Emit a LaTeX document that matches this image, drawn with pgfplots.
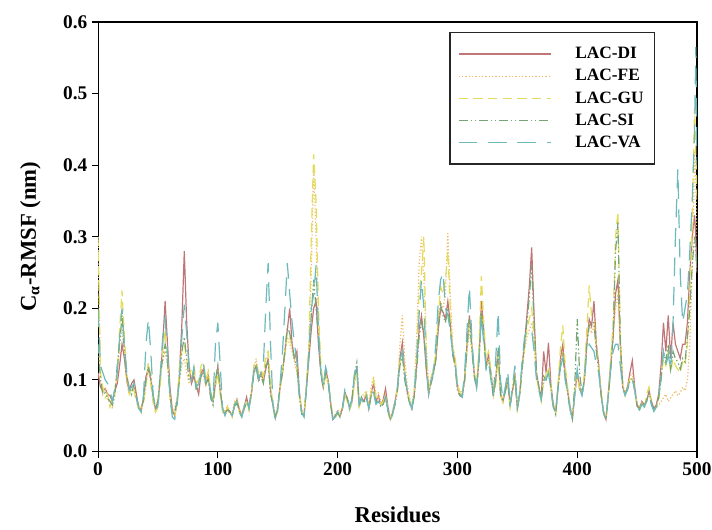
\documentclass[border=0pt]{standalone}
\usepackage{fontspec}
\setmainfont{Liberation Serif}
\usepackage{pgfplots}
\usepackage{pgfplotstable}
\pgfplotsset{compat=1.18}

\definecolor{cDI}{RGB}{192,118,118}
\definecolor{cFE}{RGB}{240,186,100}
\definecolor{cGU}{RGB}{226,220,90}
\definecolor{cSI}{RGB}{118,166,118}
\definecolor{cVA}{RGB}{108,186,188}

\pgfplotstableread{
r DI FE GU SI VA
0 .110 .300 .300 .150 .200
2 .090 .100 .110 .100 .120
4 .085 .080 .090 .080 .110
6 .088 .090 .075 .082 .100
8 .080 .070 .080 .075 .095
10 .078 .072 .062 .070 .085
12 .070 .060 .072 .065 .070
14 .085 .090 .080 .078 .088
16 .095 .100 .110 .120 .110
18 .120 .150 .170 .150 .160
20 .150 .170 .225 .190 .200
22 .130 .140 .160 .140 .150
24 .100 .095 .110 .105 .110
26 .085 .080 .080 .090 .085
28 .095 .085 .090 .080 .090
30 .100 .090 .085 .095 .095
32 .080 .075 .070 .075 .078
34 .062 .065 .060 .058 .060
36 .058 .055 .062 .060 .055
38 .075 .070 .068 .072 .080
40 .105 .090 .095 .100 .150
42 .115 .120 .125 .118 .185
44 .100 .110 .095 .105 .140
46 .078 .070 .068 .075 .080
48 .058 .060 .055 .062 .056
50 .070 .075 .062 .068 .065
52 .100 .105 .095 .110 .110
54 .150 .125 .140 .130 .160
56 .210 .140 .170 .150 .185
58 .150 .120 .130 .125 .140
60 .090 .085 .075 .080 .080
62 .058 .055 .050 .052 .048
64 .050 .060 .048 .055 .045
66 .068 .075 .070 .072 .065
68 .110 .100 .120 .100 .105
70 .180 .120 .140 .140 .160
72 .280 .130 .150 .160 .205
74 .180 .110 .130 .130 .165
76 .120 .095 .105 .100 .115
78 .095 .100 .115 .098 .100
80 .105 .115 .120 .112 .118
82 .092 .088 .095 .085 .090
84 .080 .095 .100 .090 .095
86 .110 .115 .120 .105 .110
88 .115 .105 .125 .112 .122
90 .095 .090 .100 .095 .098
92 .105 .110 .112 .100 .105
94 .078 .080 .085 .075 .082
96 .070 .072 .068 .065 .070
98 .095 .100 .090 .100 .150
100 .118 .115 .110 .120 .180
102 .085 .090 .080 .085 .120
104 .058 .062 .055 .060 .060
106 .052 .055 .050 .054 .050
108 .060 .065 .062 .058 .060
110 .056 .052 .058 .055 .054
112 .050 .055 .048 .052 .050
114 .065 .070 .068 .062 .066
116 .072 .075 .070 .068 .070
118 .058 .060 .055 .056 .055
120 .050 .052 .048 .050 .048
122 .062 .065 .058 .060 .062
124 .076 .070 .072 .068 .075
126 .060 .062 .058 .062 .060
128 .080 .085 .078 .082 .085
130 .110 .115 .120 .108 .112
132 .120 .130 .125 .118 .125
134 .100 .105 .110 .098 .102
136 .110 .108 .115 .105 .110
138 .098 .100 .105 .095 .120
140 .115 .125 .135 .120 .200
142 .130 .135 .140 .125 .263
144 .085 .090 .095 .080 .150
146 .065 .068 .062 .066 .065
148 .048 .050 .045 .047 .043
150 .060 .065 .058 .062 .058
152 .090 .095 .088 .092 .095
154 .110 .115 .108 .112 .140
156 .140 .135 .145 .140 .200
158 .170 .160 .165 .175 .263
160 .200 .150 .160 .165 .220
162 .150 .140 .145 .150 .180
164 .130 .125 .130 .128 .150
166 .140 .110 .115 .120 .125
168 .085 .080 .082 .078 .080
170 .055 .058 .056 .052 .054
172 .050 .055 .050 .052 .048
174 .090 .092 .095 .088 .090
176 .130 .140 .150 .135 .140
178 .170 .250 .300 .190 .200
180 .200 .400 .415 .240 .220
182 .210 .300 .350 .200 .260
184 .150 .180 .200 .160 .170
186 .110 .115 .120 .110 .112
188 .090 .095 .092 .088 .090
190 .115 .105 .108 .110 .118
192 .100 .095 .098 .100 .105
194 .070 .072 .075 .068 .070
196 .045 .048 .046 .044 .045
198 .050 .052 .048 .050 .048
200 .055 .058 .052 .054 .056
202 .050 .055 .052 .048 .050
204 .060 .062 .058 .060 .058
206 .082 .078 .080 .084 .086
208 .075 .072 .070 .074 .078
210 .060 .062 .058 .062 .060
212 .070 .072 .068 .075 .074
214 .100 .095 .098 .105 .108
216 .115 .110 .112 .124 .124
218 .065 .068 .062 .064 .066
220 .075 .078 .072 .076 .074
222 .070 .080 .075 .068 .066
224 .080 .085 .082 .076 .078
226 .060 .065 .062 .058 .060
228 .082 .090 .085 .078 .076
230 .095 .105 .100 .085 .082
232 .070 .080 .075 .068 .066
234 .078 .082 .076 .072 .070
236 .065 .070 .066 .062 .064
238 .072 .068 .070 .066 .068
240 .088 .080 .078 .075 .076
242 .062 .060 .058 .056 .058
244 .045 .048 .046 .044 .043
246 .055 .058 .056 .054 .052
248 .070 .072 .068 .066 .070
250 .090 .095 .088 .086 .090
252 .130 .150 .125 .120 .128
254 .152 .190 .140 .135 .140
256 .110 .130 .105 .100 .108
258 .085 .095 .088 .082 .086
260 .070 .075 .072 .068 .070
262 .060 .064 .062 .058 .060
264 .080 .090 .085 .078 .082
266 .120 .160 .140 .115 .130
268 .170 .260 .220 .160 .190
270 .190 .300 .250 .180 .240
272 .160 .240 .300 .165 .200
274 .115 .150 .140 .120 .125
276 .080 .090 .085 .082 .080
278 .100 .105 .100 .095 .098
280 .110 .115 .118 .108 .112
282 .130 .140 .135 .128 .150
284 .170 .180 .190 .175 .210
286 .200 .210 .230 .205 .240
288 .195 .200 .220 .190 .250
290 .185 .220 .240 .180 .200
292 .210 .305 .280 .200 .190
294 .180 .220 .200 .175 .170
296 .140 .150 .145 .135 .140
298 .125 .130 .135 .120 .128
300 .090 .095 .092 .085 .088
302 .080 .085 .082 .078 .080
304 .078 .082 .080 .076 .076
306 .100 .105 .102 .098 .110
308 .150 .140 .145 .145 .170
310 .190 .170 .180 .185 .230
312 .150 .140 .145 .145 .160
314 .110 .110 .108 .105 .112
316 .090 .095 .092 .088 .090
318 .130 .140 .145 .125 .128
320 .210 .200 .245 .195 .190
322 .170 .160 .180 .160 .150
324 .120 .125 .130 .118 .115
326 .135 .130 .140 .128 .125
328 .110 .108 .112 .105 .100
330 .080 .082 .078 .076 .078
332 .100 .098 .095 .102 .130
334 .140 .130 .135 .145 .195
336 .080 .082 .078 .080 .100
338 .070 .072 .068 .070 .072
340 .085 .090 .088 .084 .090
342 .100 .098 .095 .098 .113
344 .065 .068 .062 .064 .063
346 .085 .090 .088 .086 .092
348 .105 .110 .108 .104 .120
350 .062 .065 .060 .060 .059
352 .080 .085 .082 .078 .082
354 .120 .115 .118 .115 .125
356 .150 .140 .145 .150 .160
358 .190 .160 .170 .180 .170
360 .230 .170 .185 .215 .168
362 .285 .180 .200 .260 .170
364 .190 .150 .160 .180 .140
366 .110 .105 .108 .110 .100
368 .090 .088 .085 .090 .085
370 .075 .072 .070 .074 .072
372 .140 .095 .100 .105 .098
374 .110 .105 .108 .100 .102
376 .152 .115 .118 .112 .110
378 .095 .090 .092 .088 .086
380 .065 .068 .062 .064 .062
382 .055 .058 .054 .052 .054
384 .090 .092 .095 .088 .088
386 .130 .125 .145 .120 .118
388 .150 .140 .176 .135 .130
390 .110 .105 .120 .102 .100
392 .085 .088 .090 .082 .084
394 .062 .065 .060 .058 .060
396 .047 .050 .046 .045 .046
398 .080 .085 .082 .095 .080
400 .110 .105 .108 .185 .115
402 .090 .088 .086 .110 .088
404 .080 .082 .078 .080 .078
406 .100 .105 .110 .100 .098
408 .150 .155 .170 .150 .140
410 .185 .180 .232 .175 .150
412 .175 .165 .190 .180 .145
414 .210 .175 .185 .180 .140
416 .150 .140 .145 .140 .120
418 .120 .115 .118 .112 .110
420 .080 .082 .080 .078 .078
422 .055 .058 .056 .054 .054
424 .045 .048 .046 .045 .044
426 .080 .085 .082 .078 .080
428 .120 .125 .130 .118 .115
430 .160 .170 .180 .165 .140
432 .220 .200 .300 .280 .150
434 .240 .220 .335 .320 .150
436 .150 .140 .160 .155 .120
438 .090 .092 .095 .090 .088
440 .080 .082 .078 .080 .078
442 .090 .092 .088 .086 .088
444 .110 .105 .100 .098 .100
446 .127 .110 .105 .102 .104
448 .090 .088 .086 .085 .086
450 .065 .068 .064 .063 .062
452 .060 .062 .058 .060 .058
454 .070 .068 .066 .068 .066
456 .065 .062 .060 .064 .062
458 .070 .075 .080 .072 .070
460 .085 .080 .090 .082 .078
462 .070 .068 .066 .068 .065
464 .060 .058 .057 .058 .056
466 .065 .060 .062 .064 .062
468 .080 .065 .072 .075 .078
470 .120 .070 .100 .100 .105
472 .180 .075 .130 .140 .140
474 .140 .080 .120 .125 .120
476 .190 .070 .140 .150 .135
478 .130 .075 .110 .115 .115
480 .180 .080 .130 .140 .180
482 .150 .085 .120 .130 .300
484 .140 .078 .115 .125 .394
486 .130 .082 .110 .115 .250
488 .150 .090 .125 .130 .180
490 .150 .085 .120 .125 .200
492 .180 .100 .150 .160 .220
494 .250 .150 .220 .200 .280
496 .300 .250 .330 .260 .350
498 .330 .420 .480 .300 .450
499 .300 .380 .420 .280 .565
500 .250 .300 .350 .250 .400
}\rmsf

\begin{document}
\begin{tikzpicture}
\begin{axis}[
    name=ax,
    scale only axis,
    width=449pt, height=322pt,
    xmin=0, xmax=500, ymin=0, ymax=0.6,
    xtick={0,100,200,300,400,500},
    ytick={0,0.1,0.2,0.3,0.4,0.5,0.6},
    yticklabel style={/pgf/number format/fixed, /pgf/number format/fixed zerofill, /pgf/number format/precision=1},
    /pgf/number format/assume math mode=true,
    tick label style={font=\fontsize{14.5}{17}\selectfont\bfseries},
    label style={font=\fontsize{17}{20}\selectfont\bfseries},
    xlabel={Residues},
    ylabel={C\textsubscript{α}-RMSF (nm)},
    xlabel style={yshift=-17pt},
    ylabel style={yshift=10pt},
    tick align=outside,
    xtick pos=bottom, ytick pos=left,
    major tick length=4.5pt,
    axis line style={line width=0.8pt},
    every tick/.style={black, line width=0.8pt},
    legend style={at={(0.93,0.977)}, anchor=north east, draw=black!85, line width=1pt,
        inner xsep=6pt, inner ysep=9pt, row sep=2.5pt,
        font=\fontsize{13}{15}\selectfont\bfseries, cells={anchor=west},
        /tikz/every odd column/.append style={column sep=16pt}},
    legend image code/.code={\draw[line width=0.9pt, #1] (0pt,0pt) -- (69pt,0pt);},
    every axis plot/.append style={line width=0.9pt},
]
\addplot[draw=cDI] table[x=r, y=DI] {\rmsf};
\addlegendentry{LAC-DI}
\addplot[draw=cFE, dash pattern=on 0.9pt off 1.6pt] table[x=r, y=FE] {\rmsf};
\addlegendentry{LAC-FE}
\addplot[draw=cGU, dash pattern=on 7pt off 4pt] table[x=r, y=GU] {\rmsf};
\addlegendentry{LAC-GU}
\addplot[draw=cSI, dash pattern=on 7pt off 2pt on 1pt off 2pt on 1pt off 2pt] table[x=r, y=SI] {\rmsf};
\addlegendentry{LAC-SI}
\addplot[draw=cVA, dash pattern=on 14pt off 8pt] table[x=r, y=VA] {\rmsf};
\addlegendentry{LAC-VA}
\end{axis}
\pgfresetboundingbox
\path[use as bounding box] (ax.south west) ++(-73.5pt,-58.5pt) rectangle ([shift={(11.25pt,16.5pt)}]ax.north east);
\end{tikzpicture}
\end{document}
